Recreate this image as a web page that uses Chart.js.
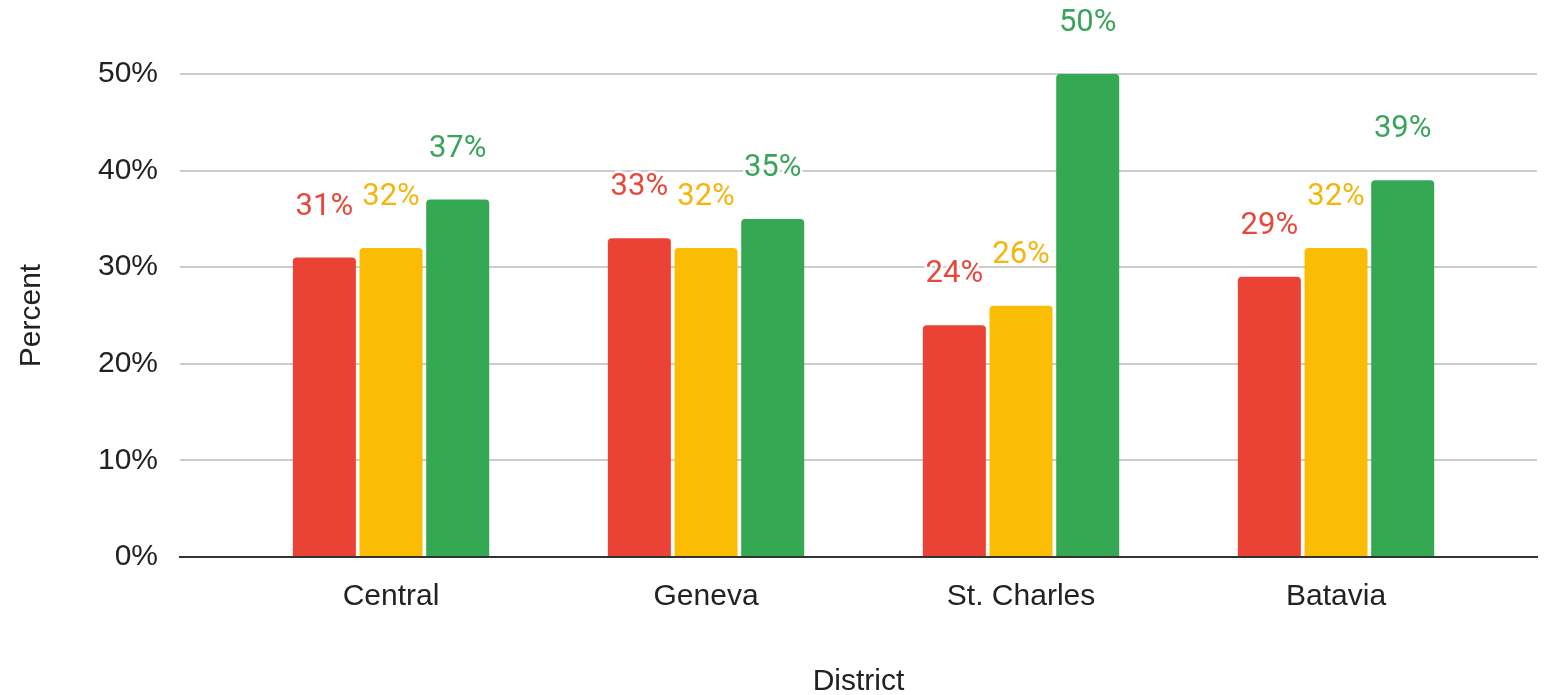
<!DOCTYPE html>
<html>
<head>
<meta charset="utf-8">
<script src="https://cdn.jsdelivr.net/npm/chart.js@4.4.1/dist/chart.umd.min.js"></script>
<style>
  html, body { margin: 0; padding: 0; background: #fff; }
  #wrap { width: 1547px; height: 695px; }
</style>
</head>
<body>
<div id="wrap"><canvas id="districtChart"></canvas></div>
<script>
const districts = ["Central", "Geneva", "St. Charles", "Batavia"];
const redValues = [31, 33, 24, 29];
const yellowValues = [32, 32, 26, 32];
const greenValues = [37, 35, 50, 39];
const yTicks = [0, 10, 20, 30, 40, 50];

const toPoints = (vals) => vals.map((v, i) => ({ x: i, y: v }));

// draws the "31%" style labels above each bar
const barLabels = {
  id: "barLabels",
  afterDatasetsDraw(chart) {
    const c = chart.ctx;
    c.save();
    c.font = "31px Roboto";
    c.textAlign = "center";
    c.textBaseline = "alphabetic";
    c.lineJoin = "round";
    chart.data.datasets.forEach((ds, di) => {
      const meta = chart.getDatasetMeta(di);
      meta.data.forEach((bar, i) => {
        const txt = ds.data[i].y + "%";
        c.strokeStyle = "#fff";
        c.lineWidth = 5;
        c.strokeText(txt, bar.x, bar.y - 43);
        c.fillStyle = ds.labelColor;
        c.fillText(txt, bar.x, bar.y - 43);
      });
    });
    c.restore();
  },
};

const ctx = document.getElementById("districtChart").getContext("2d");
const districtChart = new Chart(ctx, {
  type: "bar",
  data: {
    datasets: [
      {
        data: toPoints(redValues),
        backgroundColor: "#EA4335",
        labelColor: "#E8483B",
      },
      {
        data: toPoints(yellowValues),
        backgroundColor: "#FBBC04",
        labelColor: "#F5B50E",
      },
      {
        data: toPoints(greenValues),
        backgroundColor: "#34A853",
        labelColor: "#3AA55A",
      },
    ],
  },
  options: {
    responsive: true,
    maintainAspectRatio: false,
    animation: false,
    categoryPercentage: 0.635,
    barPercentage: 0.945,
    borderRadius: 4,
    layout: { padding: { top: 74, right: 10, left: 0, bottom: 0 } },
    plugins: {
      legend: { display: false },
      tooltip: { enabled: false },
    },
    scales: {
      x: {
        type: "linear",
        offset: false,
        min: -0.67,
        max: 3.638,
        afterBuildTicks: (scale) => {
          scale.ticks = districts.map((d, i) => ({ value: i }));
        },
        afterFit: (scale) => {
          scale.height = 138;
        },
        ticks: {
          callback: (v) => districts[v],
          color: "#222",
          font: { family: "'Liberation Sans', Arial", size: 30 },
          padding: 22,
          maxRotation: 0,
        },
        grid: { display: false, drawTicks: false, offset: false },
        border: { display: true, color: "#333", width: 2 },
        title: {
          display: true,
          text: "District",
          color: "#222",
          font: { family: "'Liberation Sans', Arial", size: 30 },
          padding: { top: 0, bottom: -5 },
        },
      },
      y: {
        min: 0,
        max: 50,
        afterBuildTicks: (scale) => {
          scale.ticks = yTicks.map((v) => ({ value: v }));
        },
        afterFit: (scale) => {
          scale.width = 180;
        },
        ticks: {
          callback: (v) => v + "%",
          color: "#222",
          font: { family: "'Liberation Sans', Arial", size: 30 },
          padding: 22,
        },
        grid: { color: "#cccccc", lineWidth: 2, drawTicks: false },
        border: { display: false },
        title: {
          display: true,
          text: "Percent",
          color: "#222",
          font: { family: "'Liberation Sans', Arial", size: 30 },
          padding: { top: 14, bottom: 0 },
        },
      },
    },
  },
  plugins: [barLabels],
});
</script>
</body>
</html>
